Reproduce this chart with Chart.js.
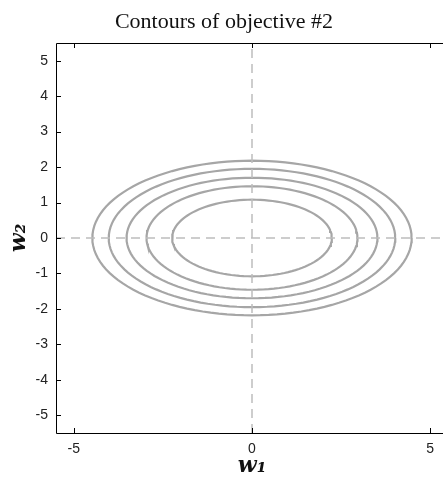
<!DOCTYPE html>
<html>
<head>
<meta charset="utf-8">
<script src="https://cdn.jsdelivr.net/npm/chart.js@4/dist/chart.umd.min.js"></script>
<style>
  html, body { margin: 0; padding: 0; background: #fff; overflow: hidden; }
  #wrap { width: 448px; height: 481px; }
</style>
</head>
<body>
<div id="wrap"><canvas id="contourCanvas" width="448" height="481"></canvas></div>
<script>
// Contour levels: semi-axes of each ellipse (w1 and w2 directions)
const semiW1 = [2.24, 2.96, 3.52, 4.02, 4.48];
const semiW2 = [1.08, 1.46, 1.70, 1.95, 2.18];
const xTicks = [-5, 0, 5];
const yTicks = [-5, -4, -3, -2, -1, 0, 1, 2, 3, 4, 5];
const axisMin = -5.5;
const axisMax = 5.5;

// Build the outline of each contour from its two semi-axes
function ellipsePoints(a, b) {
    const pts = [];
    const n = 120;
    for (let i = 0; i <= n; i++) {
        const t = (i / n) * 2 * Math.PI;
        pts.push({ x: a * Math.cos(t), y: b * Math.sin(t) });
    }
    return pts;
}

const datasets = [
    {
        data: [{ x: 0, y: axisMin }, { x: 0, y: axisMax }],
        borderColor: '#bdbdbd', borderWidth: 1.5, borderDash: [9, 6]
    },
    {
        data: [{ x: axisMin, y: 0 }, { x: axisMax, y: 0 }],
        borderColor: '#bdbdbd', borderWidth: 1.5, borderDash: [9, 6]
    }
];
semiW1.forEach((a, i) => {
    datasets.push({
        data: ellipsePoints(a, semiW2[i]),
        borderColor: '#a6a6a6',
        borderWidth: 2.2
    });
});
datasets.forEach(d => {
    d.showLine = true;
    d.pointRadius = 0;
    d.tension = 0;
    d.fill = false;
});

// Box around the plot with small inward tick marks on all four sides
const boxTicks = {
    id: 'boxTicks',
    afterDraw(chart) {
        const { ctx, chartArea: ca, scales } = chart;
        ctx.save();
        ctx.strokeStyle = '#000';
        ctx.lineWidth = 1;
        ctx.beginPath();
        ctx.rect(ca.left + 0.5, ca.top + 0.5, ca.right - ca.left, ca.bottom - ca.top);
        ctx.stroke();
        ctx.beginPath();
        xTicks.forEach(v => {
            const px = Math.round(scales.x.getPixelForValue(v)) + 0.5;
            ctx.moveTo(px, ca.bottom); ctx.lineTo(px, ca.bottom - 5);
            ctx.moveTo(px, ca.top); ctx.lineTo(px, ca.top + 5);
        });
        yTicks.forEach(v => {
            const py = Math.round(scales.y.getPixelForValue(v)) + 0.5;
            ctx.moveTo(ca.left, py); ctx.lineTo(ca.left + 5, py);
            ctx.moveTo(ca.right, py); ctx.lineTo(ca.right - 5, py);
        });
        ctx.stroke();
        ctx.restore();
    }
};

const tickFont = { family: '"Liberation Sans", Arial, sans-serif', size: 14 };
const labelFont = { family: '"DejaVu Serif", "Liberation Serif", serif', size: 22, weight: 'bold', style: 'italic' };

new Chart(document.getElementById('contourCanvas'), {
    type: 'scatter',
    data: { datasets: datasets },
    plugins: [boxTicks],
    options: {
        responsive: false,
        animation: false,
        layout: { padding: 0 },
        plugins: {
            legend: { display: false },
            tooltip: { enabled: false },
            title: {
                display: true,
                text: 'Contours of objective #2',
                color: '#111',
                font: { family: '"Liberation Serif", "Times New Roman", serif', size: 22, weight: 'normal' },
                padding: { top: 9, bottom: 7.6 }
            }
        },
        scales: {
            x: {
                type: 'linear',
                min: axisMin,
                max: axisMax,
                grid: { display: false },
                border: { display: false },
                afterBuildTicks(scale) { scale.ticks = xTicks.map(v => ({ value: v })); },
                ticks: {
                    color: '#222',
                    font: tickFont,
                    padding: 0,
                    maxRotation: 0
                },
                title: { display: true, text: 'w₁', color: '#111', font: labelFont, padding: { top: 0, bottom: 2 } },
                afterFit(scale) { scale.height = 48; }
            },
            y: {
                type: 'linear',
                min: axisMin,
                max: axisMax,
                grid: { display: false },
                border: { display: false },
                afterBuildTicks(scale) { scale.ticks = yTicks.map(v => ({ value: v })); },
                ticks: {
                    color: '#222',
                    font: tickFont,
                    padding: 0
                },
                title: { display: true, text: 'w₂', color: '#111', font: labelFont, padding: { top: 6, bottom: 0 } },
                afterFit(scale) { scale.width = 56; }
            }
        }
    }
});
</script>
</body>
</html>
